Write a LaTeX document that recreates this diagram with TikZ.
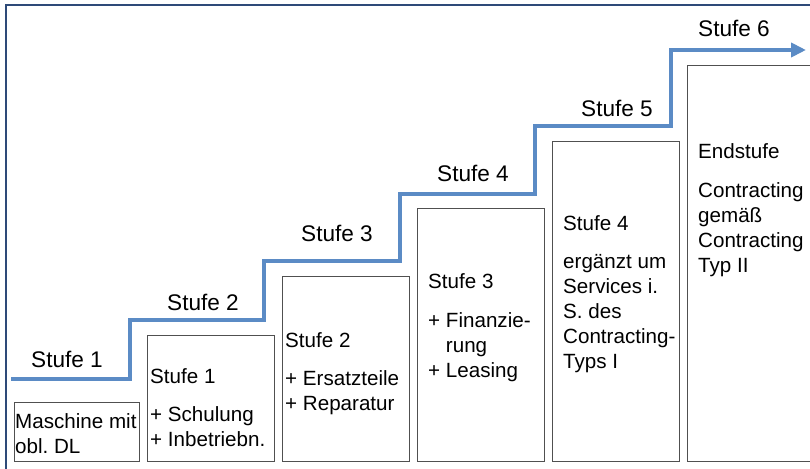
\documentclass[tikz,border=0pt]{standalone}
\usepackage{fontspec}
\setmainfont{Liberation Sans}
\usetikzlibrary{arrows.meta}
\frenchspacing

\definecolor{rahmenblau}{HTML}{2E4A78}
\definecolor{treppenblau}{HTML}{5B8BC5}
\definecolor{kastengrau}{HTML}{505050}
\newcommand{\kastenzeilen}[1]{\begin{tabular}[t]{@{}l@{}}#1\end{tabular}}

\begin{document}
\begin{tikzpicture}[x=1pt, y=-1pt,
  kasten/.style={draw=kastengrau, line width=1.3pt, inner sep=0pt, anchor=north west},
  kastentext/.style={anchor=base west, inner sep=0pt, font=\fontsize{20.6}{25}\selectfont},
  stufenlabel/.style={anchor=base, inner sep=0pt, font=\fontsize{22.6}{27}\selectfont},
  treppe/.style={draw=treppenblau, line width=4pt, -{Triangle[length=15pt,width=14pt]}}]
\path[use as bounding box, clip] (0,0) rectangle (810,468);
% Rahmen
\draw[rahmenblau, line width=2pt] (6,480) -- (6,5) -- (830,5);

% Kaesten
\node[kasten, minimum width=125pt, minimum height=59pt]  (k0) at (14,402) {};
\node[kasten, minimum width=127pt, minimum height=126pt] (k1) at (147,335) {};
\node[kasten, minimum width=127pt, minimum height=185pt] (k2) at (282,276) {};
\node[kasten, minimum width=127pt, minimum height=253pt] (k3) at (417,208) {};
\node[kasten, minimum width=127pt, minimum height=320pt] (k4) at (552,141) {};
\node[kasten, minimum width=143pt, minimum height=396pt] (k5) at (687,65) {};

% Texte
\node[kastentext] (t0) at (15,428) {\kastenzeilen{Maschine mit\\obl. DL}};
\node[kastentext] (t1) at (150,383) {\kastenzeilen{Stufe 1\\[13pt]+ Schulung\\+ Inbetriebn.}};
\node[kastentext] (t2) at (285,347) {\kastenzeilen{Stufe 2\\[13pt]+ Ersatzteile\\+ Reparatur}};
\node[kastentext] (t3) at (428,288) {\kastenzeilen{Stufe 3\\[14pt]+ Finanzie-\\\phantom{+ }rung\\+ Leasing}};
\node[kastentext] (t4) at (563,230) {\kastenzeilen{Stufe 4\\[13pt]ergänzt um\\Services i.\\S. des\\Contracting-\\Typs I}};
\node[kastentext] (t5) at (698,158) {\kastenzeilen{Endstufe\\[14pt]Contracting\\gemäß\\Contracting\\Typ II}};

% Treppe
\coordinate (start) at (11,379);
\coordinate (ziel) at (806,50);
\draw[treppe] (start) -| (130,320) -| (264,261) -| (400,194) -| (535,126) -| (671,50) -- (ziel);

\node[stufenlabel] (s1) at (67,367) {Stufe 1};
\node[stufenlabel] (s2) at (203,310) {Stufe 2};
\node[stufenlabel] (s3) at (337,241) {Stufe 3};
\node[stufenlabel] (s4) at (473,181) {Stufe 4};
\node[stufenlabel] (s5) at (617,117) {Stufe 5};
\node[stufenlabel] (s6) at (734,37) {Stufe 6};
\end{tikzpicture}
\end{document}
